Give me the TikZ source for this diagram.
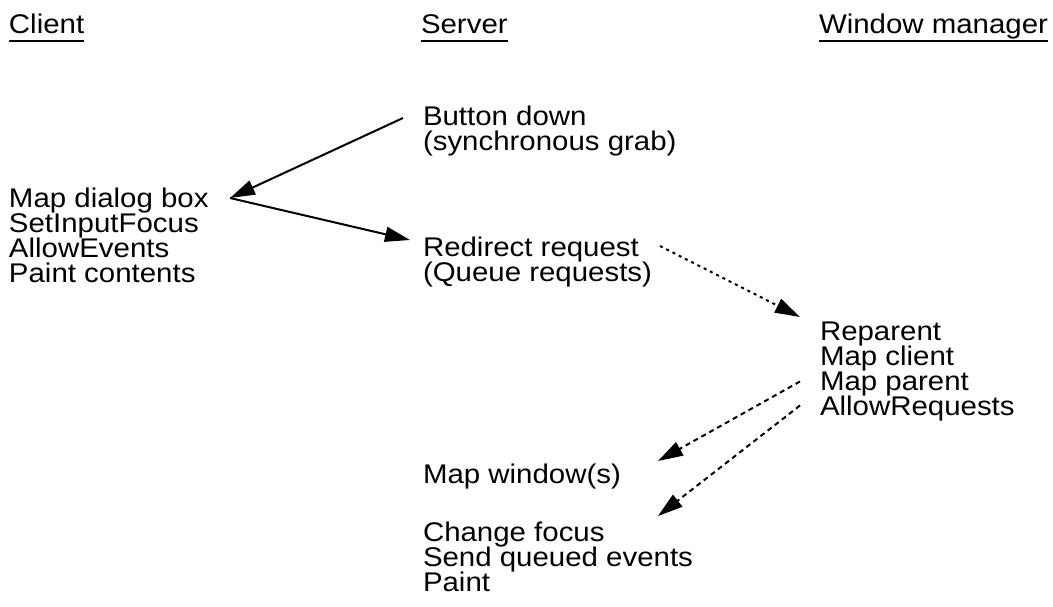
\documentclass[tikz,border=0pt]{standalone}
\usepackage{fontspec}
\setmainfont{Liberation Sans}[FakeStretch=1.09]
\usetikzlibrary{arrows.meta,calc}
\newcommand\lblfont{\fontsize{27pt}{25pt}\selectfont\lineskiplimit=-100pt\relax\lineskip=0pt\relax}
\begin{document}
\begin{tikzpicture}[x=1pt,y=-1pt,
  lbl/.style={inner sep=0pt,outer sep=0pt,anchor=base west,align=left,font=\lblfont},
  uline/.style={line width=2.5pt},
  solidarrow/.style={line width=2pt,-{Triangle[length=25pt,width=15pt]}},
  dotarrow/.style={line width=2pt,dash pattern=on 3pt off 4pt,-{Triangle[length=25pt,width=15pt]}},
  dasharrow/.style={line width=2pt,dash pattern=on 5pt off 4pt,-{Triangle[length=25pt,width=15pt]}}]
\useasboundingbox (0,0) rectangle (1053,606);
% headers
\node[lbl] (hc) at (9,33) {Client};
\node[lbl] (hs) at (421,33) {Server};
\node[lbl] (hw) at (819,33) {Window manager};
\foreach \h in {hc,hs,hw}{
  \draw[uline] ($(\h.base west)+(0,8)$) -- ($(\h.base east)+(0,8)$);
}
% blocks (base anchor = baseline of the last line)
\node[lbl] (bd) at (423,150) {Button down\\(synchronous grab)};
\node[lbl] (cl) at (9,282) {Map dialog box\\SetInputFocus\\AllowEvents\\Paint contents};
\node[lbl] (rr) at (423,281) {Redirect request\\(Queue requests)};
\node[lbl] (wm) at (820,415.5) {Reparent\\Map client\\Map parent\\AllowRequests};
\node[lbl] (mw) at (423,483) {Map window(s)};
\node[lbl] (cf) at (423,591) {Change focus\\Send queued events\\Paint};
% connectors
\coordinate (a1s) at ($(bd.base west)+(-20,-32)$);
\coordinate (a1e) at ($(cl.base west)+(221,-84)$);
\coordinate (a2e) at ($(rr.base west)+(-13,-41)$);
\coordinate (a3s) at ($(rr.base west)+(237,-35)$);
\coordinate (a3e) at ($(wm.base west)+(-20,-98.5)$);
\coordinate (a4s) at ($(wm.base west)+(-20,-34)$);
\coordinate (a4e) at ($(mw.base west)+(235,-22)$);
\coordinate (a5s) at ($(wm.base west)+(-20,-10)$);
\coordinate (a5e) at ($(cf.base west)+(235,-75)$);
\draw[solidarrow] (a1s) -- (a1e);
\draw[solidarrow] (a1e) -- (a2e);
\draw[dotarrow] (a3s) -- (a3e);
\draw[dasharrow] (a4s) -- (a4e);
\draw[dasharrow] (a5s) -- (a5e);
\end{tikzpicture}
\end{document}
